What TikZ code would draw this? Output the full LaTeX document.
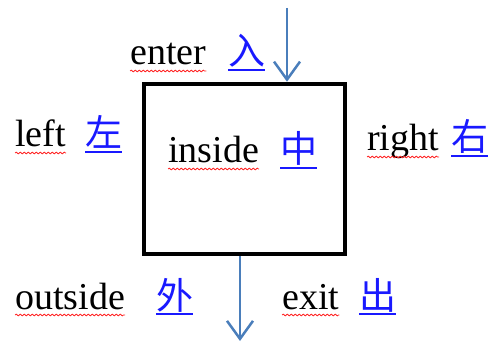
\documentclass[tikz,border=0pt]{standalone}
\usepackage{fontspec}
\setmainfont{Liberation Serif}
\newfontfamily\cjk{Noto Sans CJK SC}
\usetikzlibrary{positioning,arrows.meta,decorations.pathmorphing}
\definecolor{arrowblue}{RGB}{74,126,187}
\definecolor{linkblue}{RGB}{25,25,255}

\begin{document}
\begin{tikzpicture}[x=1pt, y=-1pt,
  word/.style={inner sep=0pt, anchor=base west, font=\fontsize{38}{40}\selectfont},
  zh/.style={word, text=linkblue, font=\cjk\fontsize{37}{40}\selectfont},
  squiggle/.style={draw=red!85, line width=0.8pt, decorate, decoration={snake, amplitude=0.9pt, segment length=4pt}},
  zhline/.style={draw=linkblue, line width=1.2pt},
  flow/.style={draw=arrowblue, line width=2.5pt, -{Straight Barb[length=18pt, width=26pt]}}
]
\useasboundingbox (0,0) rectangle (489,344);

% the box
\node[draw, line width=4.5pt, minimum width=201pt, minimum height=170pt, inner sep=0pt] (box) at (244.5,169) {};

% words and characters
\node[word] (enter) at (130,65) {enter};
\node[zh] (enterzh) at (228,65) {入};
\node[word] (left) at (15,147) {left};
\node[zh] (leftzh) at (85,147) {左};
\node[word] (inside) at (168,163) {inside};
\node[zh] (insidezh) at (280,163) {中};
\node[word] (right) at (367,151) {right};
\node[zh] (rightzh) at (451,151) {右};
\node[word] (outside) at (15,309) {outside};
\node[zh] (outsidezh) at (156,309) {外};
\node[word] (exit) at (282,309) {exit};
\node[zh] (exitzh) at (359,309) {出};

% underlines
\foreach \w in {enter,left,inside,right,outside,exit} {
  \draw[squiggle] ([yshift=-6pt]\w.base west) -- ([yshift=-6pt]\w.base east);
  \draw[zhline] ([yshift=-5pt]\w zh.base west) -- ([yshift=-5pt]\w zh.base east);
}

% arrows
\coordinate (src) at (287,8);
\coordinate (sink) at (240,341);
\draw[flow] (src) -- (src |- box.north);
\draw[flow] (box.south -| sink) -- (sink);
\end{tikzpicture}
\end{document}
